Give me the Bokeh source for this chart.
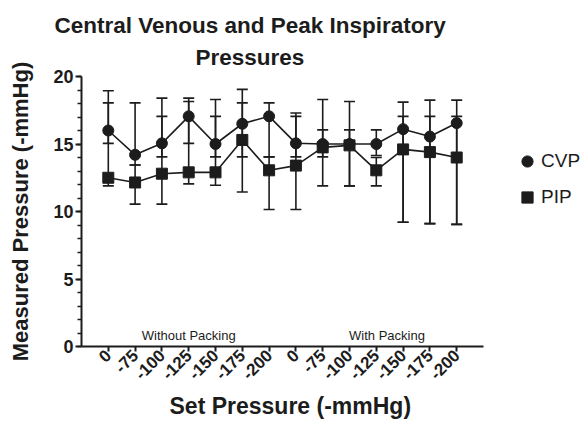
import math
from bokeh.plotting import figure
from bokeh.models import (ColumnDataSource, Whisker, TeeHead, Title, Legend, LegendItem,
                          FixedTicker, SingleIntervalTicker, Range1d)
from bokeh.core.properties import value
from bokeh.embed import file_html
from bokeh.resources import INLINE

# ---- data ----
tick_labels = ["0", "-75", "-100", "-125", "-150", "-175", "-200",
               "0", "-75", "-100", "-125", "-150", "-175", "-200"]
groups = ["Without Packing", "With Packing"]

cvp = [16.0, 14.2, 15.05, 17.05, 15.0, 16.5, 17.05, 15.05, 15.0, 15.0, 15.0, 16.1, 15.55, 16.55]
cvp_lo = [15.05, 13.45, 14.05, 15.05, 14.05, 14.05, 14.05, 14.05, 14.05, 11.9, 14.15, 9.2, 9.1, 9.05]
cvp_hi = [18.95, 18.05, 18.4, 18.4, 18.3, 19.05, 18.05, 17.3, 18.3, 18.15, 16.05, 18.1, 18.25, 18.25]

pip = [12.5, 12.15, 12.8, 12.9, 12.9, 15.3, 13.05, 13.4, 14.75, 14.9, 13.05, 14.6, 14.4, 14.0]
pip_lo = [11.9, 10.55, 10.55, 12.05, 11.95, 11.45, 10.15, 10.15, 11.9, 11.9, 11.9, 9.2, 9.1, 9.05]
pip_hi = [18.05, 13.45, 17.05, 18.15, 17.05, 18.05, 14.05, 17.05, 16.05, 16.05, 14.0, 17.05, 17.05, 17.05]

xs = list(range(len(tick_labels)))
FONT = "Liberation Sans"
INK = "#1c1c1c"

W, H = 586, 421
LEFT, RIGHT_PAD, TOP, BOTTOM = 81, 5, 76, 75
axis_px = 402.0                       # pixel length of the drawn x axis (-1 .. 14)
ppu = axis_px / 15.0
x_end = -1 + (W - LEFT - RIGHT_PAD) / ppu   # extra room on the right holds the legend

p = figure(width=W, height=H, output_backend="svg", toolbar_location=None,
           x_range=Range1d(-1, x_end), y_range=Range1d(0, 20), title=None,
           min_border_left=LEFT, min_border_right=RIGHT_PAD,
           min_border_top=TOP, min_border_bottom=BOTTOM)
p.outline_line_color = None
p.grid.visible = False
p.background_fill_color = "white"
p.border_fill_color = "white"

src_c = ColumnDataSource(dict(x=xs, y=cvp, lo=cvp_lo, hi=cvp_hi))
src_p = ColumnDataSource(dict(x=xs, y=pip, lo=pip_lo, hi=pip_hi))

for src in (src_c, src_p):
    w = Whisker(base="x", lower="lo", upper="hi", source=src, dimension="height",
                line_color=INK, line_width=1.6,
                upper_head=TeeHead(size=11, line_color=INK, line_width=1.6),
                lower_head=TeeHead(size=11, line_color=INK, line_width=1.6))
    w.level = "underlay"
    p.add_layout(w)

p.line("x", "y", source=src_c, line_color=INK, line_width=1.6)
p.line("x", "y", source=src_p, line_color=INK, line_width=1.6)
rc = p.scatter("x", "y", source=src_c, marker="circle", size=11, fill_color=INK, line_color=INK)
rp = p.scatter("x", "y", source=src_p, marker="square", size=11, fill_color=INK, line_color=INK)

# group labels
p.text(x=[3, 10.4], y=[0.8, 0.8], text=groups, text_align="center", text_baseline="middle",
       text_font=value(FONT), text_font_size="13px", text_color=INK)

# axes
xa = p.xaxis[0]
xa.bounds = (-1, 14)
xa.ticker = FixedTicker(ticks=xs)
xa.major_label_overrides = {i: t for i, t in enumerate(tick_labels)}
xa.major_label_orientation = math.pi / 4
xa.major_label_text_font = FONT
xa.major_label_text_font_style = "bold"
xa.major_label_text_font_size = "17px"
xa.major_label_text_color = INK
xa.major_label_standoff = 1
xa.major_tick_in = 0
xa.major_tick_out = 5
xa.minor_tick_line_color = None
xa.axis_line_width = 2
xa.major_tick_line_width = 2
xa.axis_line_color = INK
xa.major_tick_line_color = INK

ya = p.yaxis[0]
ya.ticker = SingleIntervalTicker(interval=5, num_minor_ticks=5)
ya.major_label_text_font = FONT
ya.major_label_text_font_style = "bold"
ya.major_label_text_font_size = "18px"
ya.major_label_text_color = INK
ya.major_label_standoff = 2
ya.major_tick_in = 0
ya.major_tick_out = 6
ya.minor_tick_in = 0
ya.minor_tick_out = 4
ya.axis_line_width = 2
ya.major_tick_line_width = 2
ya.minor_tick_line_width = 1.5
ya.axis_line_color = INK
ya.major_tick_line_color = INK
ya.minor_tick_line_color = INK
ya.axis_label = "Measured Pressure (-mmHg)"
ya.axis_label_text_font = FONT
ya.axis_label_text_font_style = "bold"
ya.axis_label_text_font_size = "22px"
ya.axis_label_text_color = INK
ya.axis_label_standoff = 17

# x axis title, placed under the drawn axis (not the widened frame)
xt = Title(text="Set Pressure (-mmHg)", align="left", offset=88, text_font=FONT,
           text_font_style="bold", text_font_size="23px", text_color=INK, standoff=4)
p.add_layout(xt, "below")

# title (two lines), left aligned with offsets from the frame's left edge
t2 = Title(text="Pressures", align="left", offset=114, text_font=FONT,
           text_font_style="bold", text_font_size="22.5px", text_color=INK, standoff=13)
t1 = Title(text="Central Venous and Peak Inspiratory", align="left", offset=-27, text_font=FONT,
           text_font_style="bold", text_font_size="22.5px", text_color=INK, standoff=-3)
p.add_layout(t2, "above")
p.add_layout(t1, "above")

# legend, inside the widened frame to the right of the x axis
legend = Legend(items=[LegendItem(label="CVP", renderers=[rc]),
                       LegendItem(label="PIP", renderers=[rp])],
                location=(432, 135), orientation="vertical",
                glyph_width=28, glyph_height=28, label_height=28, spacing=8,
                label_standoff=0, padding=0, margin=0,
                border_line_color=None, background_fill_alpha=0,
                label_text_font=FONT, label_text_font_size="19px", label_text_color=INK)
p.add_layout(legend, "center")

open("out.html", "w").write(file_html(p, INLINE))
